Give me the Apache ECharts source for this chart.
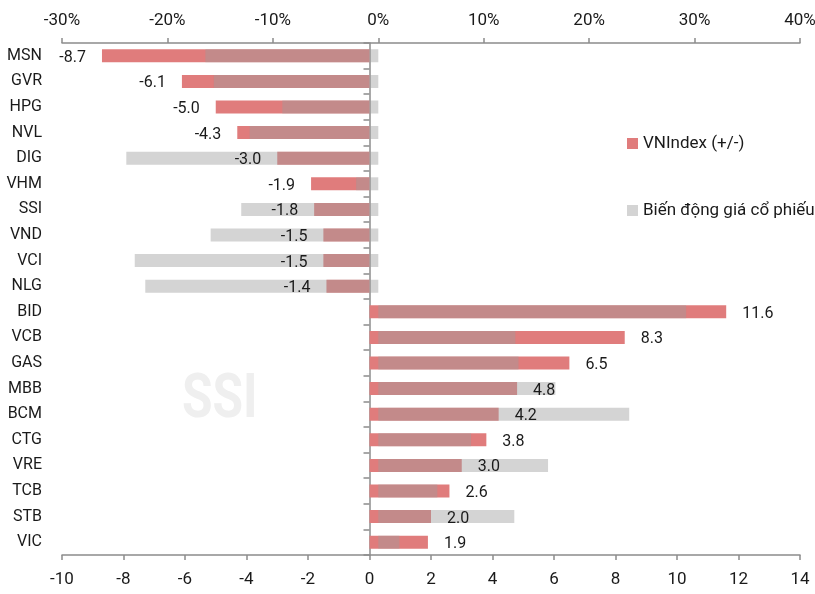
<!DOCTYPE html>
<html>
<head>
<meta charset="utf-8">
<script src="https://cdn.jsdelivr.net/npm/echarts@6/dist/echarts.min.js"></script>
<style>
  html, body { margin: 0; padding: 0; background: #fff; }
  #main { width: 815px; height: 594px; }
</style>
</head>
<body>
<div id="main"></div>
<script>
const FONT = 'Roboto, "Liberation Sans", sans-serif';

const stocks = ['MSN', 'GVR', 'HPG', 'NVL', 'DIG', 'VHM', 'SSI', 'VND', 'VCI', 'NLG',
  'BID', 'VCB', 'GAS', 'MBB', 'BCM', 'CTG', 'VRE', 'TCB', 'STB', 'VIC'];
// VNIndex contribution (points, bottom axis)
const vnIndexPts = [-8.7, -6.1, -5.0, -4.3, -3.0, -1.9, -1.8, -1.5, -1.5, -1.4,
  11.6, 8.3, 6.5, 4.8, 4.2, 3.8, 3.0, 2.6, 2.0, 1.9];
// stock price change (%, top axis)
const priceChg = [-16.4, -15.6, -9.1, -12.2, -23.9, -2.1, -13.0, -15.9, -23.1, -22.1,
  29.2, 13.0, 13.3, 16.8, 23.8, 8.8, 16.1, 5.6, 12.9, 2.0];

const myChart = echarts.init(document.getElementById('main'));

const axisColor = '#8c8c8c';

const option = {
  animation: false,
  backgroundColor: '#fff',
  textStyle: { fontFamily: FONT },
  grid: { left: 62, right: 15, top: 43, bottom: 39, containLabel: false, outerBoundsMode: 'none' },
  graphic: [{
    type: 'text',
    x: 182,
    y: 370,
    scaleX: 0.8,
    z: -1,
    style: {
      text: 'SSI',
      font: 'bold 62px ' + FONT,
      fill: '#efefef'
    }
  }],
  legend: {
    orient: 'vertical',
    left: 622,
    top: 130,
    itemGap: 50,
    itemWidth: 11,
    itemHeight: 11,
    icon: 'rect',
    textStyle: { fontFamily: FONT, fontSize: 17, color: '#1a1a1a' },
    data: ['VNIndex (+/-)', 'Biến động giá cổ phiếu']
  },
  xAxis: [
    {
      type: 'value',
      position: 'bottom',
      min: -10,
      max: 14,
      interval: 2,
      splitLine: { show: false },
      axisLine: { show: true, onZero: false, lineStyle: { color: axisColor, width: 1.5 } },
      axisTick: { show: true, length: 5, lineStyle: { color: axisColor, width: 1.5 } },
      axisLabel: { fontFamily: FONT, fontSize: 17, color: '#1a1a1a', margin: 16 }
    },
    {
      type: 'value',
      position: 'top',
      min: -30,
      max: 40,
      interval: 10,
      splitLine: { show: false },
      axisLine: { show: true, onZero: false, lineStyle: { color: axisColor, width: 1.5 } },
      axisTick: { show: true, length: 5, lineStyle: { color: axisColor, width: 1.5 } },
      axisLabel: { fontFamily: FONT, fontSize: 17, color: '#1a1a1a', margin: 14, formatter: '{value}%' }
    }
  ],
  yAxis: [
    {
      type: 'category',
      position: 'left',
      inverse: true,
      data: stocks,
      axisLine: { show: true, onZero: true, onZeroAxisIndex: 0, lineStyle: { color: axisColor, width: 1.5 } },
      axisTick: { show: true, length: 6, lineStyle: { color: axisColor, width: 1.5 } },
      axisLabel: { show: false }
    },
    {
      type: 'category',
      position: 'left',
      inverse: true,
      data: stocks,
      axisLine: { show: false, onZero: false },
      axisTick: { show: false },
      axisLabel: { fontFamily: FONT, fontSize: 16, color: '#1a1a1a', margin: 20 }
    }
  ],
  series: [
    {
      name: 'VNIndex (+/-)',
      type: 'bar',
      xAxisIndex: 0,
      yAxisIndex: 0,
      barWidth: 13,
      barGap: '-100%',
      itemStyle: { color: '#e07c7c' },
      label: {
        show: true,
        fontFamily: FONT,
        fontSize: 16,
        color: '#1a1a1a',
        distance: 16,
        offset: [0, 2],
        formatter: p => p.value.toFixed(1)
      },
      data: vnIndexPts.map(v => ({ value: v, label: { position: v < 0 ? 'left' : 'right' } }))
    },
    {
      name: 'Biến động giá cổ phiếu',
      type: 'bar',
      xAxisIndex: 1,
      yAxisIndex: 0,
      barWidth: 13,
      barGap: '-100%',
      itemStyle: { color: '#9d9d9d', opacity: 0.44 },
      data: priceChg
    }
  ]
};

myChart.setOption(option);
</script>
</body>
</html>
